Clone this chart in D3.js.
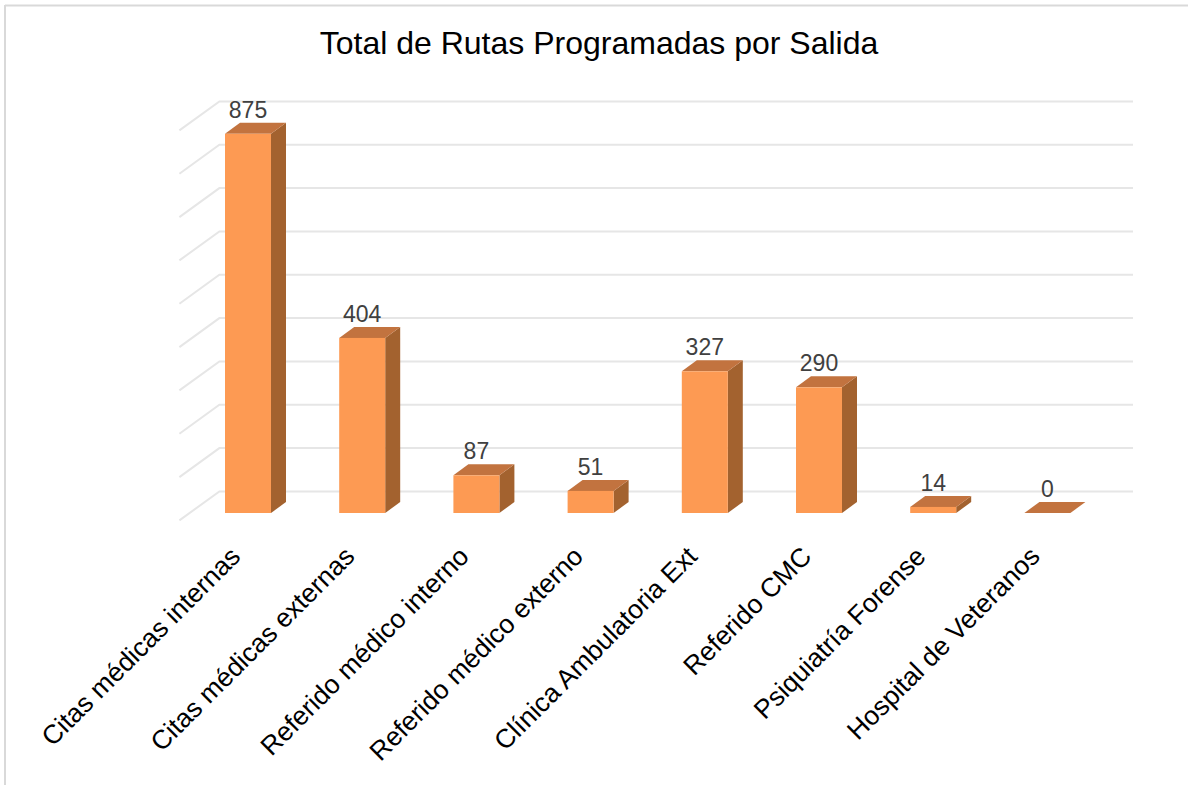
<!DOCTYPE html>
<html><head><meta charset="utf-8">
<script src="https://cdn.jsdelivr.net/npm/d3@7"></script>
<style>body{margin:0;background:#fff;}svg{display:block;font-family:"Liberation Sans",Arial,sans-serif;}</style>
</head><body><div id="chart"></div>
<script>
const categories = ["Citas médicas internas","Citas médicas externas","Referido médico interno","Referido médico externo","Clínica Ambulatoria Ext","Referido CMC","Psiquiatría Forense","Hospital de Veteranos"];
const values = [875,404,87,51,327,290,14,0];
const yTicks = [0,100,200,300,400,500,600,700,800,900];
const titleText = "Total de Rutas Programadas por Salida";

const W=1188,H=785;
const svg=d3.select("#chart").append("svg").attr("width",W).attr("height",H);
svg.append("rect").attr("width",W).attr("height",H).attr("fill","#fff");
// outer border (top & left visible)
svg.append("line").attr("x1",5).attr("x2",W).attr("y1",5.5).attr("y2",5.5).attr("stroke","#d9d9d9").attr("stroke-width",2);
svg.append("line").attr("x1",5).attr("x2",5).attr("y1",5).attr("y2",H).attr("stroke","#d9d9d9").attr("stroke-width",2);

svg.append("text").attr("x",599).attr("y",54).attr("text-anchor","middle")
  .attr("font-size",32).attr("fill","#000").text(titleText);

// back-wall scales
const x=d3.scaleBand().domain(categories).range([219.4,1133]).paddingInner(0).paddingOuter(0);
const y=d3.scaleLinear().domain([0,900]).range([491.4,101.4]);
const wall={dx:-40,dy:29};      // depth of side wall / floor
const front={dx:-28.5,dy:21.6}; // bar front plane offset from back wall
const bd={dx:15,dy:-11};        // bar depth
const barW=46;

const grid=svg.append("g").attr("stroke","#e6e6e6").attr("stroke-width",2).attr("fill","none");
yTicks.forEach(t=>{
  const yy=y(t);
  grid.append("path").attr("d",`M${x.range()[0]+wall.dx},${yy+wall.dy}L${x.range()[0]},${yy}L${x.range()[1]},${yy}`);
});

const bars=svg.append("g");
categories.forEach((c,i)=>{
  const v=values[i];
  const cx=x(c)+x.bandwidth()/2+front.dx;
  const x0=cx-barW/2, x1=cx+barW/2;
  const yb=y(0)+front.dy, yt=y(v)+front.dy;
  const g=bars.append("g");
  // side
  g.append("path").attr("d",`M${x1},${yt}L${x1+bd.dx},${yt+bd.dy}L${x1+bd.dx},${yb+bd.dy}L${x1},${yb}Z`).attr("fill","#a3622f");
  // top
  g.append("path").attr("d",`M${x0},${yt}L${x0+bd.dx},${yt+bd.dy}L${x1+bd.dx},${yt+bd.dy}L${x1},${yt}Z`).attr("fill","#c2733f");
  // front
  if(v>0) g.append("rect").attr("x",x0).attr("y",yt).attr("width",barW).attr("height",yb-yt).attr("fill","#fd9a53");
  // data label
  svg.append("text").attr("x",cx).attr("y",yt+bd.dy-5).attr("text-anchor","middle")
    .attr("font-size",23).attr("fill","#404040").text(v);
  // category label
  svg.append("text").attr("transform",`translate(${cx-6},${558}) rotate(-45)`).attr("text-anchor","end")
    .attr("font-size",26.5).attr("fill","#000").text(c);
});
</script></body></html>
